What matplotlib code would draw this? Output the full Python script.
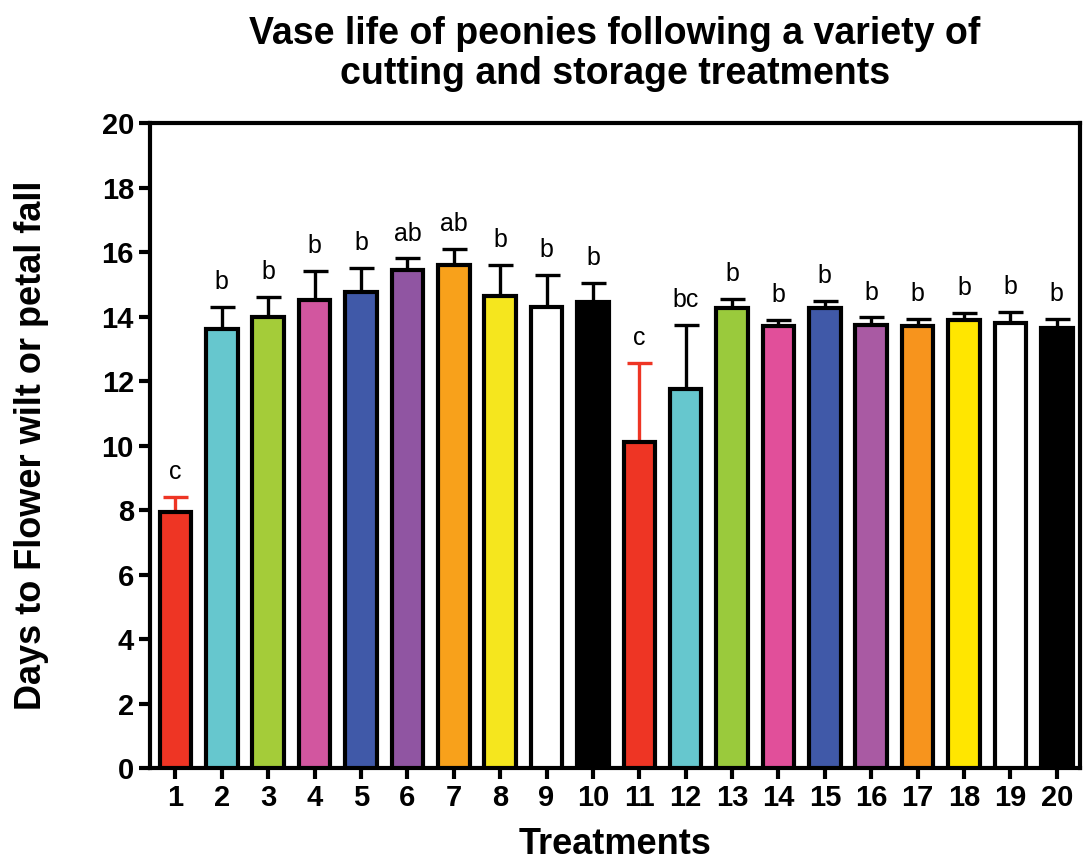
import numpy as np
import matplotlib
matplotlib.use('Agg')
import matplotlib.pyplot as plt

plt.rcParams['font.family'] = ['Liberation Sans', 'DejaVu Sans']

# Dados
tratamentos = [str(i) for i in range(1, 21)]
media = [7.95, 13.6, 14.0, 14.5, 14.75, 15.45, 15.6, 14.65, 14.3, 14.45,
         10.1, 11.75, 14.25, 13.7, 14.25, 13.75, 13.7, 13.9, 13.8, 13.65]
erro = [0.45, 0.7, 0.6, 0.9, 0.75, 0.35, 0.5, 0.95, 1.0, 0.6,
        2.45, 2.0, 0.3, 0.2, 0.22, 0.22, 0.22, 0.22, 0.35, 0.27]
letras = ['c', 'b', 'b', 'b', 'b', 'ab', 'ab', 'b', 'b', 'b',
          'c', 'bc', 'b', 'b', 'b', 'b', 'b', 'b', 'b', 'b']
cores = ['#EE3524', '#66C7CE', '#A4CC39', '#D2569F', '#4059A8', '#9055A2',
         '#F8A11B', '#F5E61E', '#FFFFFF', '#000000',
         '#EE3524', '#66C7CE', '#9ACA3C', '#E14F9A', '#4059A8', '#A95AA3',
         '#F7941D', '#FFE600', '#FFFFFF', '#000000']

x = np.arange(1, 21)

fig = plt.figure(figsize=(10.89, 8.65), dpi=100)
ax = fig.add_axes([0.1377, 0.1121, 0.8540, 0.7457])

ax.bar(x, media, width=0.68, color=cores, edgecolor='black', linewidth=3, zorder=3)
for i in range(20):
    cor_erro = '#EE3524' if cores[i] == '#EE3524' else 'black'
    ax.errorbar(x[i], media[i], yerr=[[0], [erro[i]]], fmt='none', ecolor=cor_erro,
                elinewidth=2.4, capsize=9, capthick=2.4, zorder=2)
    ax.text(x[i], media[i] + erro[i] + 0.4, letras[i], ha='center', va='bottom',
            fontsize=18)

ax.set_xlim(0.45, 20.5)
ax.set_ylim(0, 20)
ax.set_yticks(np.arange(0, 21, 2))
ax.set_xticks(x)
ax.set_xticklabels(tratamentos)
for s in ax.spines.values():
    s.set_linewidth(3)
ax.tick_params(axis='both', width=3, length=8, labelsize=21)
for lab in ax.get_xticklabels() + ax.get_yticklabels():
    lab.set_fontweight('bold')

ax.set_xlabel('Treatments', fontsize=26, fontweight='bold', labelpad=11)
ax.set_ylabel('Days to Flower wilt or petal fall', fontsize=26, fontweight='bold', labelpad=38)
ax.set_title('Vase life of peonies following a variety of\ncutting and storage treatments',
             fontsize=27, fontweight='bold', pad=28, linespacing=1.15)

plt.savefig('out.png', dpi=100)
